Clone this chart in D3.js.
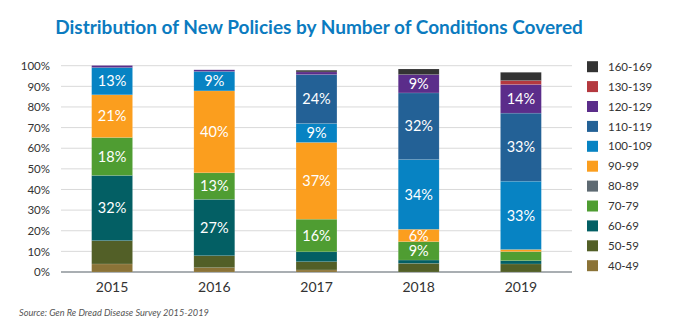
<!DOCTYPE html>
<html>
<head>
<meta charset="utf-8">
<script src="https://cdn.jsdelivr.net/npm/d3@7"></script>
<style>
  body { margin: 0; background: #fff; }
  svg { display: block; font-family: Lato, "Open Sans", sans-serif; }
</style>
</head>
<body>
<svg id="chart" width="674" height="335"></svg>
<script>
// years on the x axis
let years = ["2015", "2016", "2017", "2018", "2019"]

// share of new policies (%) per band of conditions covered, one value per year
let s40_49   = [3.9, 2.1, 1.0, 0, 0]
let s50_59   = [11.3, 5.8, 4.0, 4.2, 3.9]
let s60_69   = [31.6, 27.3, 4.8, 1.6, 1.6]
let s70_79   = [18.4, 12.9, 15.8, 8.9, 4.4]
let s80_89   = [0, 0, 0, 0, 0]
let s90_99   = [20.7, 39.7, 37.2, 6.0, 1.0]
let s100_109 = [13.2, 9.4, 9.2, 33.8, 33.1]
let s110_119 = [0, 0, 23.7, 32.3, 33.0]
let s120_129 = [1.0, 0.8, 1.3, 8.9, 13.9]
let s130_139 = [0, 0, 0, 0, 1.9]
let s160_169 = [0, 0, 0.8, 2.7, 4.0]

let yTicks = [0, 10, 20, 30, 40, 50, 60, 70, 80, 90, 100]

// bottom to top
let series = [
  {key: "40-49",   values: s40_49,   color: "#8b7337", label: false},
  {key: "50-59",   values: s50_59,   color: "#525f27", label: false},
  {key: "60-69",   values: s60_69,   color: "#035f64", label: true},
  {key: "70-79",   values: s70_79,   color: "#4f9d32", label: true},
  {key: "80-89",   values: s80_89,   color: "#5e6a72", label: true},
  {key: "90-99",   values: s90_99,   color: "#fb9e1e", label: true},
  {key: "100-109", values: s100_109, color: "#0783c3", label: true},
  {key: "110-119", values: s110_119, color: "#236196", label: true},
  {key: "120-129", values: s120_129, color: "#5b2d8a", label: true},
  {key: "130-139", values: s130_139, color: "#b4393f", label: true},
  {key: "160-169", values: s160_169, color: "#333333", label: true}
]

let svg = d3.select("#chart")

let plotLeft = 61, plotRight = 572, plotTop = 65.7, plotBottom = 272

let xScale = d3.scaleBand().domain(years).range([plotLeft, plotRight]).paddingInner(0.6).paddingOuter(0.3)
let yScale = d3.scaleLinear().domain([0, 100]).range([plotBottom, plotTop])

// title
svg.append("text")
  .attr("x", 319)
  .attr("y", 34)
  .attr("text-anchor", "middle")
  .attr("fill", "#0b7bc0")
  .attr("font-size", 19)
  .attr("font-weight", 700)
  .text("Distribution of New Policies by Number of Conditions Covered")

// gridlines
svg.append("g").selectAll("line")
  .data(yTicks)
  .enter().append("line")
  .attr("x1", plotLeft)
  .attr("x2", plotRight)
  .attr("y1", function(d){ return yScale(d) })
  .attr("y2", function(d){ return yScale(d) })
  .attr("stroke", function(d){ return d === 0 ? "#8c9399" : "#d9d9d9" })
  .attr("stroke-width", function(d){ return d === 0 ? 1.5 : 1 })

let yAxis = d3.axisLeft(yScale)
  .tickValues(yTicks)
  .tickSize(0)
  .tickPadding(11)
  .tickFormat(function(d){ return d + "%" })

svg.append("g")
  .attr("transform", "translate(" + plotLeft + ",0)")
  .call(yAxis)
  .call(function(g){ g.select(".domain").remove() })
  .selectAll("text")
  .attr("fill", "#333")
  .attr("font-size", 11.5)
  .attr("font-family", "Lato, sans-serif")

let xAxis = d3.axisBottom(xScale).tickSize(0).tickPadding(10)

svg.append("g")
  .attr("transform", "translate(0," + plotBottom + ")")
  .call(xAxis)
  .call(function(g){ g.select(".domain").remove() })
  .selectAll("text")
  .attr("fill", "#333")
  .attr("font-size", 14)
  .attr("font-family", "Lato, sans-serif")

// stack the bands
let rows = years.map(function(y, i){
  let row = {year: y}
  series.forEach(function(s){ row[s.key] = s.values[i] })
  return row
})
let stacked = d3.stack().keys(series.map(function(s){ return s.key }))(rows)

let layers = svg.append("g").selectAll("g.layer")
  .data(stacked)
  .enter().append("g")
  .attr("class", "layer")
  .attr("fill", function(d, i){ return series[i].color })

layers.selectAll("rect")
  .data(function(d){ return d })
  .enter().append("rect")
  .attr("x", function(d){ return xScale(d.data.year) })
  .attr("width", xScale.bandwidth())
  .attr("y", function(d){ return yScale(d[1]) })
  .attr("height", function(d){ return Math.max(0, yScale(d[0]) - yScale(d[1])) })
  .attr("stroke", "rgba(255,255,255,0.18)")
  .attr("stroke-width", 0.6)

// percentage labels inside larger segments
layers.each(function(layer, i){
  if (!series[i].label) return
  d3.select(this).selectAll("text")
    .data(layer.filter(function(d){ return d[1] - d[0] >= 5.5 }))
    .enter().append("text")
    .attr("x", function(d){ return xScale(d.data.year) + xScale.bandwidth() / 2 })
    .attr("y", function(d){ return yScale((d[0] + d[1]) / 2) })
    .attr("dy", "0.36em")
    .attr("text-anchor", "middle")
    .attr("fill", "#fff")
    .attr("font-size", 14.5)
    .text(function(d){ return Math.round(d[1] - d[0]) + "%" })
})

// legend, top band first
let legend = svg.append("g").selectAll("g")
  .data(series.slice().reverse())
  .enter().append("g")
  .attr("transform", function(d, i){ return "translate(587," + (66.7 + i * 19.9) + ")" })

legend.append("rect")
  .attr("x", 0)
  .attr("y", -5.5)
  .attr("width", 11)
  .attr("height", 11)
  .attr("fill", function(d){ return d.color })

legend.append("text")
  .attr("x", 21)
  .attr("dy", "0.36em")
  .attr("fill", "#333")
  .attr("font-size", 11.5)
  .text(function(d){ return d.key })

// source
svg.append("text")
  .attr("x", 19)
  .attr("y", 316)
  .attr("fill", "#555")
  .attr("font-size", 9.2)
  .attr("font-style", "italic")
  .text("Source: Gen Re Dread Disease Survey 2015-2019")
</script>
</body>
</html>
